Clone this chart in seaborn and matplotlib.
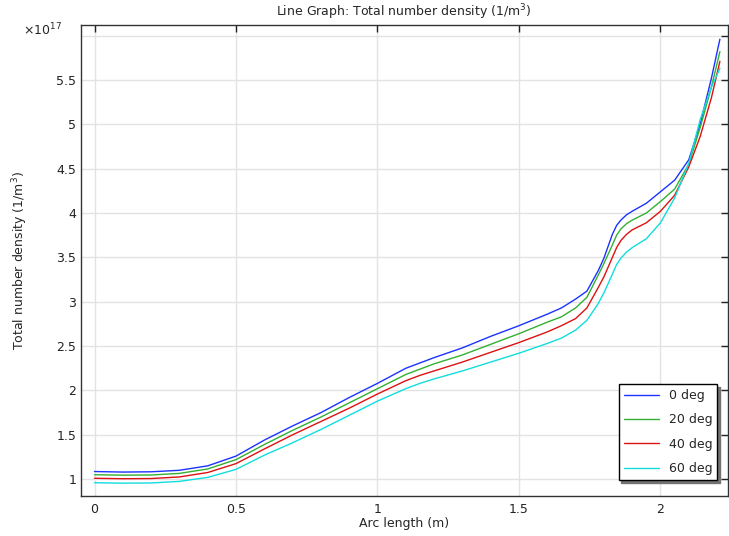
import pandas as pd
import matplotlib
matplotlib.use('Agg')
import matplotlib.pyplot as plt
import seaborn as sns

# arc length (m) and total number density (x 1e17 1/m^3)
arc = [0, 0.1, 0.2, 0.3, 0.4, 0.5, 0.6, 0.7, 0.8, 0.9, 1.0, 1.1, 1.15, 1.2, 1.3, 1.4,
       1.5, 1.6, 1.65, 1.7, 1.74, 1.78, 1.8, 1.83, 1.845, 1.86, 1.88, 1.9, 1.95, 2.0,
       2.05, 2.1, 2.14, 2.18, 2.21]
deg0 = [1.086, 1.08, 1.083, 1.10, 1.15, 1.26, 1.44, 1.60, 1.75, 1.92, 2.08, 2.25, 2.31,
        2.37, 2.48, 2.61, 2.73, 2.86, 2.93, 3.03, 3.12, 3.35, 3.49, 3.76, 3.86, 3.92,
        3.98, 4.02, 4.11, 4.24, 4.37, 4.60, 5.00, 5.52, 5.96]
deg20 = [1.05, 1.045, 1.047, 1.065, 1.115, 1.22, 1.39, 1.55, 1.70, 1.86, 2.02, 2.18, 2.24,
         2.30, 2.40, 2.52, 2.64, 2.77, 2.83, 2.93, 3.05, 3.30, 3.43, 3.64, 3.75, 3.82,
         3.88, 3.92, 4.00, 4.13, 4.27, 4.55, 4.96, 5.42, 5.82]
deg40 = [1.01, 1.005, 1.007, 1.025, 1.075, 1.175, 1.34, 1.50, 1.65, 1.80, 1.96, 2.11, 2.17,
         2.22, 2.32, 2.43, 2.54, 2.66, 2.73, 2.81, 2.93, 3.16, 3.28, 3.50, 3.61, 3.69,
         3.76, 3.81, 3.89, 4.02, 4.20, 4.52, 4.86, 5.30, 5.71]
deg60 = [0.96, 0.955, 0.957, 0.975, 1.02, 1.11, 1.27, 1.41, 1.56, 1.72, 1.88, 2.02, 2.08,
         2.13, 2.22, 2.32, 2.42, 2.53, 2.59, 2.68, 2.79, 2.98, 3.10, 3.31, 3.42, 3.49,
         3.56, 3.61, 3.71, 3.89, 4.17, 4.56, 5.05, 5.42, 5.63]

labels = ['0 deg', '20 deg', '40 deg', '60 deg']
colors = ['#1a33ff', '#33b033', '#dd1111', '#11dddd']

df = pd.concat([
    pd.DataFrame({'arc': arc, 'density': vals, 'angle': lab})
    for vals, lab in zip([deg0, deg20, deg40, deg60], labels)
])

sns.set_style('white')
plt.rcParams['font.family'] = ['DejaVu Sans']

fig = plt.figure(figsize=(7.29, 5.36), dpi=100)
ax = fig.add_axes([0.111, 0.0746, 0.887, 0.8788])

sns.lineplot(data=df, x='arc', y='density', hue='angle', palette=colors,
             linewidth=1.0, sort=False, estimator=None, ax=ax)

ax.set_xlim(-0.048, 2.237)
ax.set_ylim(0.81, 6.12)
ax.set_xticks([0, 0.5, 1, 1.5, 2])
ax.set_xticklabels(['0', '0.5', '1', '1.5', '2'])
yt = [1, 1.5, 2, 2.5, 3, 3.5, 4, 4.5, 5, 5.5, 6]
ax.set_yticks(yt)
ax.set_yticklabels(['1', '1.5', '2', '2.5', '3', '3.5', '4', '4.5', '5', '5.5', ''])

ax.grid(True, color='#e3e3e3', linewidth=1)
ax.tick_params(direction='in', length=5, width=1, top=True, right=True,
               labelsize=9, colors='#222222')
ax.tick_params(axis='x', pad=5)
ax.tick_params(axis='y', pad=3.5)
for sp in ax.spines.values():
    sp.set_color('#333333')
    sp.set_linewidth(1)

ax.set_title('Line Graph: Total number density (1/m$^3$)', fontsize=9, pad=6)
ax.set_xlabel('Arc length (m)', fontsize=9, labelpad=1)
ax.set_ylabel('Total number density (1/m$^3$)', fontsize=9, labelpad=19)
ax.text(-0.029, 0.978, r'$\times\mathregular{10^{17}}$', transform=ax.transAxes,
        ha='right', va='baseline', fontsize=9)

leg = ax.legend(loc='lower right', bbox_to_anchor=(0.984, 0.034), borderaxespad=0,
                fancybox=False, shadow={'color': '0.45', 'alpha': 1},
                edgecolor='black', framealpha=1, fontsize=9, handlelength=2.8,
                labelspacing=0.9, title=None)
leg.get_frame().set_linewidth(1)

plt.savefig('out.png', dpi=100)
